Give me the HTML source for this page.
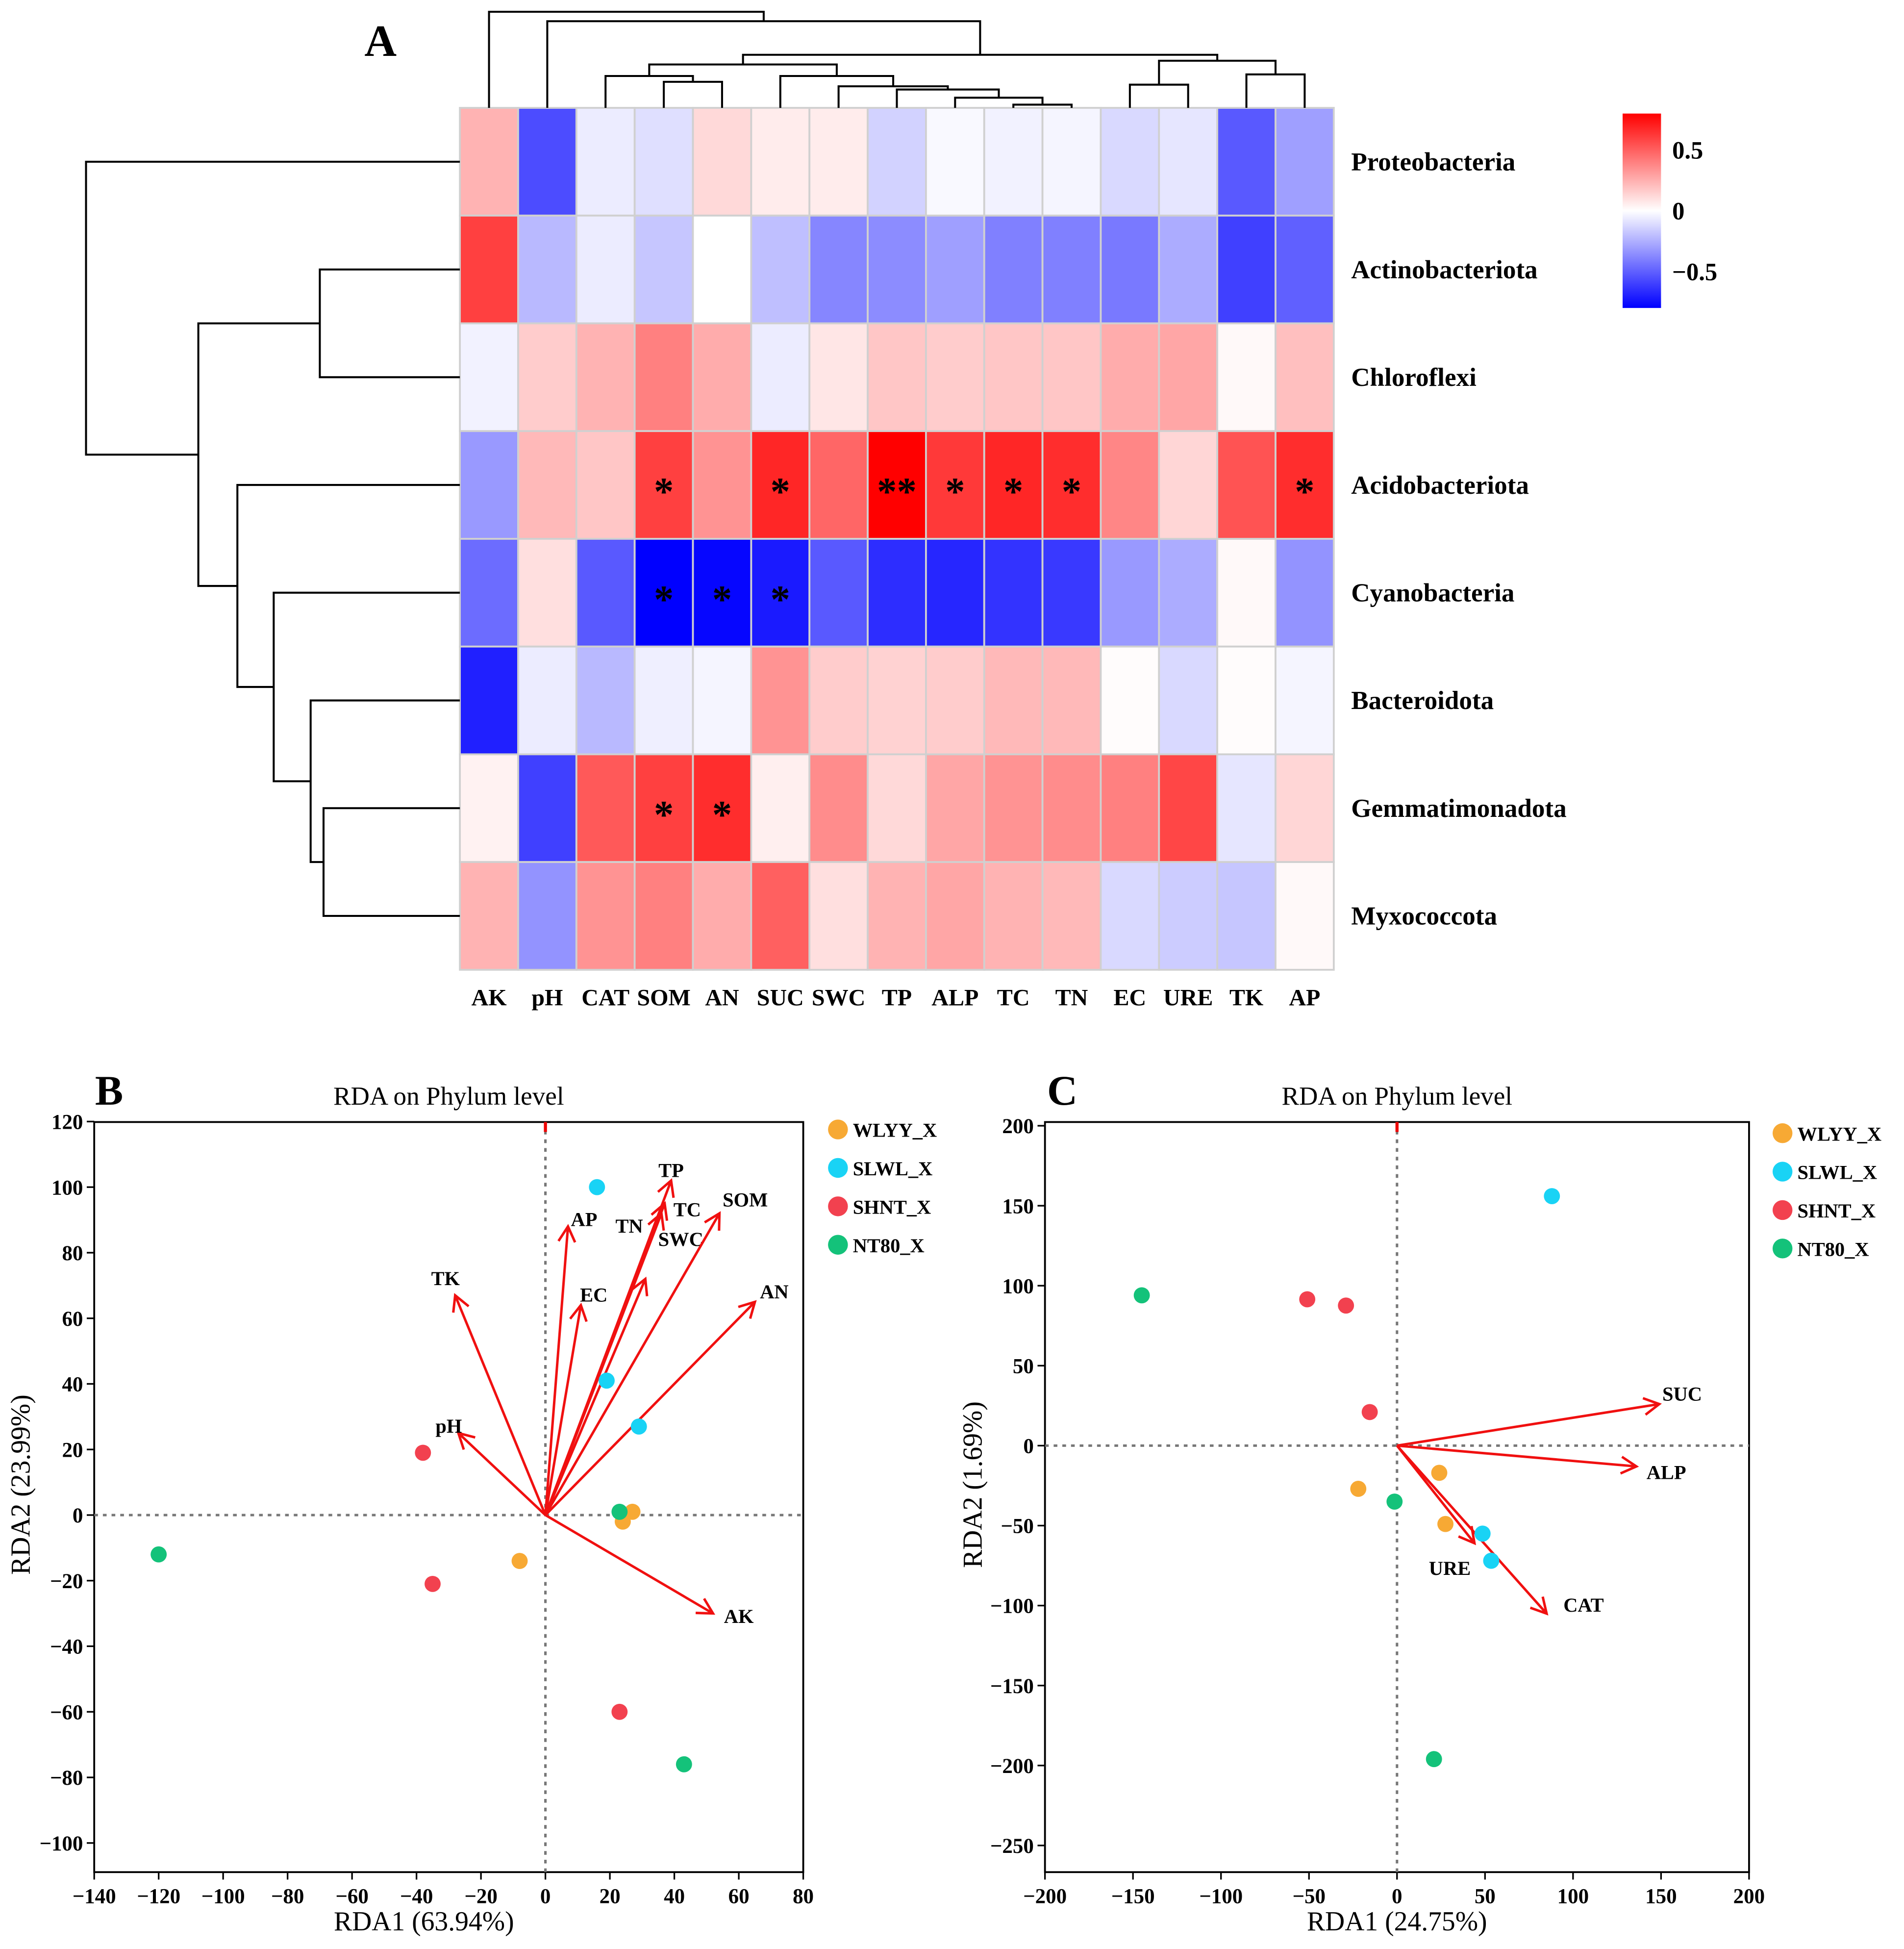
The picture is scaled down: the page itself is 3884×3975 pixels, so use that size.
<!DOCTYPE html>
<html><head><meta charset="utf-8"><style>
html,body{margin:0;padding:0;background:#fff}
svg{display:block}
</style></head><body>
<svg id="root" width="3884" height="3975" viewBox="0 0 1536 1572" preserveAspectRatio="none" xmlns="http://www.w3.org/2000/svg" font-family="Liberation Serif, serif">
<rect width="1536" height="1572" fill="#fff"/>
<g id="panelA"></g>
<g id="panelB"></g>
<g id="panelC"></g>
</svg>
<script>
const NS="http://www.w3.org/2000/svg";
function mk(parent,tag,attrs,text){const e=document.createElementNS(NS,tag);if(tag==='text')e.setAttribute('font-family','Liberation Serif, serif');for(const k in attrs)e.setAttribute(k,attrs[k]);if(text!==undefined)e.textContent=text;parent.appendChild(e);return e;}

// ---------- Heatmap data ----------
const hmCols=["AK","pH","CAT","SOM","AN","SUC","SWC","TP","ALP","TC","TN","EC","URE","TK","AP"];
const hmRows=["Proteobacteria","Actinobacteriota","Chloroflexi","Acidobacteriota","Cyanobacteria","Bacteroidota","Gemmatimonadota","Myxococcota"];
const hmProteo=[0.24,-0.56,-0.06,-0.1,0.12,0.06,0.06,-0.14,-0.02,-0.04,-0.03,-0.12,-0.08,-0.52,-0.3];
const hmActino=[0.6,-0.22,-0.06,-0.18,0,-0.2,-0.38,-0.36,-0.3,-0.4,-0.4,-0.42,-0.26,-0.6,-0.5];
const hmChloro=[-0.04,0.16,0.24,0.4,0.26,-0.06,0.08,0.18,0.16,0.18,0.18,0.26,0.28,0.02,0.2];
const hmAcido=[-0.32,0.22,0.18,0.6,0.34,0.68,0.48,0.8,0.62,0.68,0.66,0.38,0.13,0.54,0.66];
const hmCyano=[-0.46,0.1,-0.52,-0.8,-0.78,-0.72,-0.52,-0.66,-0.68,-0.64,-0.62,-0.32,-0.26,0.02,-0.34];
const hmBact=[-0.7,-0.06,-0.22,-0.05,-0.03,0.34,0.16,0.14,0.16,0.22,0.22,0.01,-0.12,0.01,-0.03];
const hmGemm=[0.04,-0.6,0.52,0.6,0.66,0.05,0.36,0.12,0.28,0.34,0.36,0.4,0.58,-0.08,0.13];
const hmMyxo=[0.24,-0.34,0.34,0.4,0.26,0.5,0.1,0.24,0.28,0.24,0.22,-0.12,-0.16,-0.18,0.02];
const hmStarsAcido=["","","","*","","*","","**","*","*","*","","","","*"];
const hmStarsCyano=["","","","*","*","*","","","","","","","","",""];
const hmStarsGemm=["","","","*","*","","","","","","","","","",""];
const hmScaleTicks=[0.5,0,-0.5];
const hmVals=[hmProteo,hmActino,hmChloro,hmAcido,hmCyano,hmBact,hmGemm,hmMyxo];
const hmStars=[null,null,null,hmStarsAcido,hmStarsCyano,null,hmStarsGemm,null];

const HX0=371,HY0=87,CW=47,RH=86.9,VMAX=0.8;
function colX(i){return HX0+CW*i;}
function rowY(r){return HY0+RH*r;}
function col(v){let t=Math.max(-1,Math.min(1,v/VMAX));
 if(t>=0){const c=Math.round(255*(1-t));return `rgb(255,${c},${c})`;}
 const c=Math.round(255*(1+t));return `rgb(${c},${c},255)`;}
function cbY(v){return 170-v*98;}

const A=document.getElementById('panelA');
mk(A,'text',{x:307,y:45,'font-size':36,'font-weight':'bold','text-anchor':'middle',},'A');
hmVals.forEach((row,r)=>{row.forEach((v,c)=>{
 const el=mk(A,'rect',{x:colX(c),y:rowY(r),width:CW,height:RH,fill:col(v),stroke:'#d0d0d0','stroke-width':1.5});
 
 
 const s=hmStars[r]&&hmStars[r][c];
 if(s){const t=mk(A,'text',{x:colX(c)+CW/2,y:rowY(r)+RH/2+16,'font-size':32,'font-weight':'bold','text-anchor':'middle'},s);
  
  }
});});
hmRows.forEach((n,r)=>{const t=mk(A,'text',{x:1090,y:rowY(r)+RH/2+7,'font-size':21,'font-weight':'bold'},n);
 
 });
hmCols.forEach((n,c)=>{const t=mk(A,'text',{x:colX(c)+CW/2,y:811,'font-size':19,'font-weight':'bold','text-anchor':'middle'},n);
 
 });
const defs=mk(A,'defs',{});const lg=mk(defs,'linearGradient',{id:'cb',x1:0,y1:0,x2:0,y2:1});
mk(lg,'stop',{offset:'0','stop-color':'#ff0000'});mk(lg,'stop',{offset:'0.5','stop-color':'#ffffff'});mk(lg,'stop',{offset:'1','stop-color':'#0000ff'});
mk(A,'rect',{x:1309,y:cbY(VMAX),width:31,height:cbY(-VMAX)-cbY(VMAX),fill:'url(#cb)',});
hmScaleTicks.forEach(v=>{const t=mk(A,'text',{x:1349,y:cbY(v)+7,'font-size':20,'font-weight':'bold'},v<0?'\u22120.5':String(v));
 
 });
const dg=mk(A,'g',{stroke:'#000','stroke-width':1.6,fill:'none',});
function cx(i){return colX(i)+CW/2;}
function U(x1,y1,x2,y2,h){mk(dg,'path',{d:`M${x1},${y1}V${h}H${x2}V${y2}`});}
U(cx(9),87,cx(10),87,84.4);const nTT=(cx(9)+cx(10))/2;
U(cx(8),87,nTT,84.4,78.8);const n2=(cx(8)+nTT)/2;
U(cx(7),87,n2,78.8,72.2);const n3=(cx(7)+n2)/2;
U(cx(6),87,n3,72.2,69.6);const n4=(cx(6)+n3)/2;
U(cx(5),87,n4,69.6,61.3);const n5=(cx(5)+n4)/2;
U(cx(3),87,cx(4),87,66);const n6=(cx(3)+cx(4))/2;
U(cx(2),87,n6,66,61.3);const n7=(cx(2)+n6)/2;
U(n7,61.3,n5,61.3,52);const n8=(n7+n5)/2;
U(cx(11),87,cx(12),87,68.3);const n9=(cx(11)+cx(12))/2;
U(cx(13),87,cx(14),87,60);const n10=(cx(13)+cx(14))/2;
U(n9,68.3,n10,60,49);const n11=(n9+n10)/2;
U(n8,52,n11,49,44.2);const n12=(n8+n11)/2;
U(cx(1),87,n12,44.2,17.1);const n13=(cx(1)+n12)/2;
U(cx(0),87,n13,17.1,9.5);
const dl=mk(A,'g',{stroke:'#000','stroke-width':1.6,fill:'none',});
function ry(r){return rowY(r)+RH/2;}
function L(y1,x1,y2,x2,h){mk(dl,'path',{d:`M${x1},${y1}H${h}V${y2}H${x2}`});}
L(ry(1),371,ry(2),371,258);const m1=(ry(1)+ry(2))/2;
L(ry(6),371,ry(7),371,261);const m2=(ry(6)+ry(7))/2;
L(ry(5),371,m2,261,250.6);const m3=(ry(5)+m2)/2;
L(ry(4),371,m3,250.6,220.8);const m4=(ry(4)+m3)/2;
L(ry(3),371,m4,220.8,191.5);const m5=(ry(3)+m4)/2;
L(m1,258,m5,191.5,160);const m6=(m1+m5)/2;
L(ry(0),371,m6,160,69.4);

// ---------- RDA B data ----------
const bTicksX=[-140,-120,-100,-80,-60,-40,-20,0,20,40,60,80];
const bTicksY=[120,100,80,60,40,20,0,-20,-40,-60,-80,-100];
const bArrowNames=["TK","pH","AP","EC","TN","TC","TP","SWC","SOM","AN","AK"];
const bArrowX=[-28,-27,7,11,36,37,39,31,54,65,52];
const bArrowY=[67,25,88,64,92,95,102,72,92,65,-30];
const bLabelX=[-31,-30,12,15,26,44,39,42,62,71,60];
const bLabelY=[72,27,90,67,88,93,105,84,96,68,-31];
const bGroups=["WLYY_X","SLWL_X","SHNT_X","NT80_X"];
const bWLYYx=[-8,27,24], bWLYYy=[-14,1,-2];
const bSLWLx=[16,19,29], bSLWLy=[100,41,27];
const bSHNTx=[-38,-35,23], bSHNTy=[19,-21,-60];
const bNT80x=[-120,23,43], bNT80y=[-12,1,-76];

// ---------- RDA C data ----------
const cTicksX=[-200,-150,-100,-50,0,50,100,150,200];
const cTicksY=[200,150,100,50,0,-50,-100,-150,-200,-250];
const cArrowNames=["SUC","ALP","URE","CAT"];
const cArrowX=[149,136,44,85];
const cArrowY=[26,-13,-61,-105];
const cLabelX=[162,153,30,106];
const cLabelY=[32,-17,-77,-100];
const cWLYYx=[24,-22,27.5], cWLYYy=[-17,-27,-49];
const cSLWLx=[88,48.6,53.5], cSLWLy=[156,-55,-72];
const cSHNTx=[-51,-29,-15.5], cSHNTy=[91.5,87.6,21];
const cNT80x=[-145,-1.4,21], cNT80y=[94,-35,-196];

const gColors=["#f7a934","#19d3f5","#f2414f","#14c27a"];

function rda(g,o){
 const sx=v=>o.x0+(v-o.xmin)*o.kx, sy=v=>o.y0-v*o.ky;
 mk(g,'text',{x:o.lx,y:891,'font-size':34,'font-weight':'bold','text-anchor':'middle',},o.letter);
 mk(g,'text',{x:(o.L+o.R)/2,y:891,'font-size':21,'text-anchor':'middle',},'RDA on Phylum level');
 mk(g,'rect',{x:o.L,y:o.T,width:o.R-o.L,height:o.B-o.T,fill:'none',stroke:'#000','stroke-width':1.5,});
 mk(g,'line',{x1:sx(0),x2:sx(0),y1:o.T,y2:o.B,stroke:'#777','stroke-width':2,'stroke-dasharray':'3,4',});
 mk(g,'line',{x1:o.L,x2:o.R,y1:sy(0),y2:sy(0),stroke:'#777','stroke-width':2,'stroke-dasharray':'3,4',});
 mk(g,'line',{x1:sx(0),x2:sx(0),y1:o.T,y2:o.T+8,stroke:'#e00','stroke-width':2.5});
 o.tx.forEach(v=>{mk(g,'line',{x1:sx(v),x2:sx(v),y1:o.B,y2:o.B+6,stroke:'#000','stroke-width':1.3});
  const t=mk(g,'text',{x:sx(v),y:o.B+25,'font-size':17,'font-weight':'bold','text-anchor':'middle'},v<0?'\u2212'+(-v):String(v));
  
  });
 o.ty.forEach(v=>{mk(g,'line',{x1:o.L-6,x2:o.L,y1:sy(v),y2:sy(v),stroke:'#000','stroke-width':1.3});
  const t=mk(g,'text',{x:o.L-9,y:sy(v)+6,'font-size':17,'font-weight':'bold','text-anchor':'end'},v<0?'\u2212'+(-v):String(v));
  
  });
 mk(g,'text',{x:(o.L+o.R)/2-(o.letter==='B'?20:0),y:1557,'font-size':22,'text-anchor':'middle',},o.xt);
 mk(g,'text',{x:0,y:0,'font-size':22,'text-anchor':'middle',transform:`translate(${o.yl},${(o.T+o.B)/2-10}) rotate(-90)`,},o.yt);
 o.an.forEach((n,i)=>{
  const x2=sx(o.ax[i]),y2=sy(o.ay[i]),x1=sx(0),y1=sy(0);
  const a=Math.atan2(y2-y1,x2-x1),h=14,w=0.5;
  const ar=mk(g,'path',{d:`M${x1},${y1}L${x2},${y2}M${x2-h*Math.cos(a-w)},${y2-h*Math.sin(a-w)}L${x2},${y2}L${x2-h*Math.cos(a+w)},${y2-h*Math.sin(a+w)}`,stroke:'#f01010','stroke-width':2,fill:'none'});
  
  
  const t=mk(g,'text',{x:sx(o.lx2[i]),y:sy(o.ly2[i])+5,'font-size':16,'font-weight':'bold','text-anchor':'middle'},n);
  
  
 });
 o.pts.forEach((p,gi)=>{p[0].forEach((v,k)=>{
  const c=mk(g,'circle',{cx:sx(v),cy:sy(p[1][k]),r:6.5,fill:gColors[gi]});
  
  });});
 bGroups.forEach((n,gi)=>{const y=o.legY+31*gi;
  const c=mk(g,'circle',{cx:o.legX,cy:y,r:8,fill:gColors[gi]});
  
  
  const t=mk(g,'text',{x:o.legX+12,y:y+6,'font-size':16,'font-weight':'bold'},n);
  
  });
}
rda(document.getElementById('panelB'),{letter:'B',lx:88,L:76,R:648,T:905,B:1510,xmin:-140,x0:76,kx:2.6,y0:1222,ky:2.645,
 tx:bTicksX,ty:bTicksY,xt:'RDA1 (63.94%)',yt:'RDA2 (23.99%)',yl:24,an:bArrowNames,ax:bArrowX,ay:bArrowY,lx2:bLabelX,ly2:bLabelY,
 pts:[[bWLYYx,bWLYYy],[bSLWLx,bSLWLy],[bSHNTx,bSHNTy],[bNT80x,bNT80y]],legX:676,legY:911});
rda(document.getElementById('panelC'),{letter:'C',lx:857,L:843,R:1411,T:905,B:1510,xmin:-200,x0:843,kx:1.42,y0:1166,ky:1.29,
 tx:cTicksX,ty:cTicksY,xt:'RDA1 (24.75%)',yt:'RDA2 (1.69%)',yl:792,an:cArrowNames,ax:cArrowX,ay:cArrowY,lx2:cLabelX,ly2:cLabelY,
 pts:[[cWLYYx,cWLYYy],[cSLWLx,cSLWLy],[cSHNTx,cSHNTy],[cNT80x,cNT80y]],legX:1438,legY:914});
</script>
</body></html>
